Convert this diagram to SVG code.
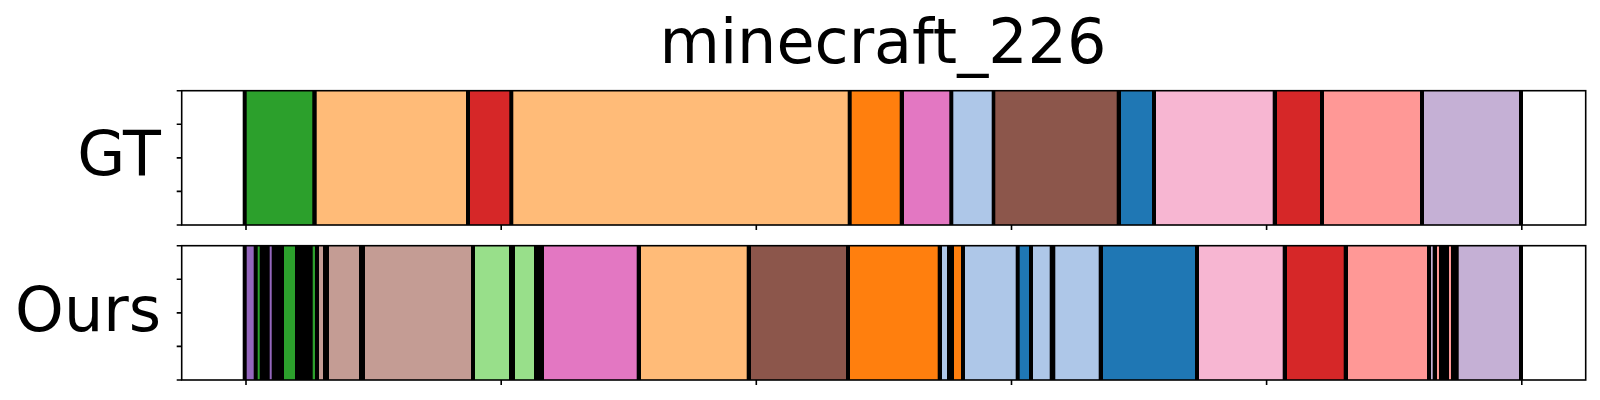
<svg xmlns="http://www.w3.org/2000/svg" width="1600" height="400" viewBox="0 0 1600 400">
<style>
text{font-family:"DejaVu Sans","Liberation Sans",sans-serif;fill:#000}
.lbl{font-size:62px;text-anchor:end}
.ttl{font-size:62px;text-anchor:middle}
.bg{fill:#000}
.spine{fill:none;stroke:#000;stroke-width:1.6}
.tick{stroke:#000;stroke-width:1.6}
.green{fill:#2ca02c}.lo{fill:#ffbb78}.red{fill:#d62728}.orange{fill:#ff7f0e}
.pink{fill:#e377c2}.lb{fill:#aec7e8}.brown{fill:#8c564b}.blue{fill:#1f77b4}
.lp{fill:#f7b6d2}.salmon{fill:#ff9896}.lav{fill:#c5b0d5}.purple{fill:#9467bd}
.rb{fill:#c49c94}.lg{fill:#98df8a}
</style>
<rect width="1600" height="400" fill="#fff"/>
<text class="ttl" x="883" y="63.3">minecraft_226</text>

<g id="gt">
<text class="lbl" x="161" y="175">GT</text>
<rect class="bg" x="242.7" y="90.7" width="1280.3" height="134.3"/>
<g transform="translate(0,90.7)">
<rect class="green" x="246.7" width="65.6" height="134.3"/>
<rect class="lo" x="316.7" width="149.3" height="134.3"/>
<rect class="red" x="470" width="39.3" height="134.3"/>
<rect class="lo" x="513.3" width="334.4" height="134.3"/>
<rect class="orange" x="851.7" width="48" height="134.3"/>
<rect class="pink" x="904" width="45.3" height="134.3"/>
<rect class="lb" x="953.3" width="38.4" height="134.3"/>
<rect class="brown" x="995.3" width="121.4" height="134.3"/>
<rect class="blue" x="1121" width="31" height="134.3"/>
<rect class="lp" x="1156" width="116.7" height="134.3"/>
<rect class="red" x="1277" width="43" height="134.3"/>
<rect class="salmon" x="1324" width="96" height="134.3"/>
<rect class="lav" x="1424" width="95" height="134.3"/>
</g>
<rect class="spine" x="181.7" y="90.7" width="1404" height="134.3"/>
<path class="tick" d="M176.7 90.7H181.7M176.7 124.3H181.7M176.7 157.9H181.7M176.7 191.4H181.7M176.7 225H181.7M246 225V230M501.2 225V230M756.3 225V230M1011.5 225V230M1266.6 225V230M1521.8 225V230"/>
</g>

<g id="ours">
<text class="lbl" x="161" y="330.7">Ours</text>
<rect class="bg" x="242.7" y="245.7" width="1280.3" height="134.3"/>
<g transform="translate(0,245.7)">
<rect class="purple" x="246.7" width="7" height="134.3"/>
<rect class="green" x="257.7" width="2" height="134.3"/>
<rect class="purple" x="269.7" width="2" height="134.3"/>
<rect class="green" x="284" width="11" height="134.3"/>
<rect class="green" x="312.7" width="2.3" height="134.3"/>
<rect class="rb" x="319" width="4" height="134.3"/>
<rect class="rb" x="329" width="30" height="134.3"/>
<rect class="rb" x="365" width="106" height="134.3"/>
<rect class="lg" x="475" width="34" height="134.3"/>
<rect class="lg" x="515" width="19" height="134.3"/>
<rect class="pink" x="544" width="92.7" height="134.3"/>
<rect class="lo" x="641" width="105.7" height="134.3"/>
<rect class="brown" x="751" width="95" height="134.3"/>
<rect class="orange" x="850" width="87.7" height="134.3"/>
<rect class="lb" x="942" width="5" height="134.3"/>
<rect class="orange" x="954" width="7" height="134.3"/>
<rect class="lb" x="965" width="50.7" height="134.3"/>
<rect class="blue" x="1019.7" width="9.3" height="134.3"/>
<rect class="lb" x="1033" width="16.7" height="134.3"/>
<rect class="lb" x="1055.3" width="43.4" height="134.3"/>
<rect class="blue" x="1103" width="92" height="134.3"/>
<rect class="lp" x="1199" width="83.7" height="134.3"/>
<rect class="red" x="1287" width="56.7" height="134.3"/>
<rect class="salmon" x="1348" width="79" height="134.3"/>
<rect class="lav" x="1431" width="1.7" height="134.3"/>
<rect class="salmon" x="1437" width="2" height="134.3"/>
<rect class="salmon" x="1449" width="2" height="134.3"/>
<rect class="lav" x="1458.7" width="60.3" height="134.3"/>
</g>
<rect class="spine" x="181.7" y="245.7" width="1404" height="134.3"/>
<path class="tick" d="M176.7 245.7H181.7M176.7 279.3H181.7M176.7 312.9H181.7M176.7 346.4H181.7M176.7 380H181.7M246 380V385M501.2 380V385M756.3 380V385M1011.5 380V385M1266.6 380V385M1521.8 380V385"/>
</g>
</svg>
